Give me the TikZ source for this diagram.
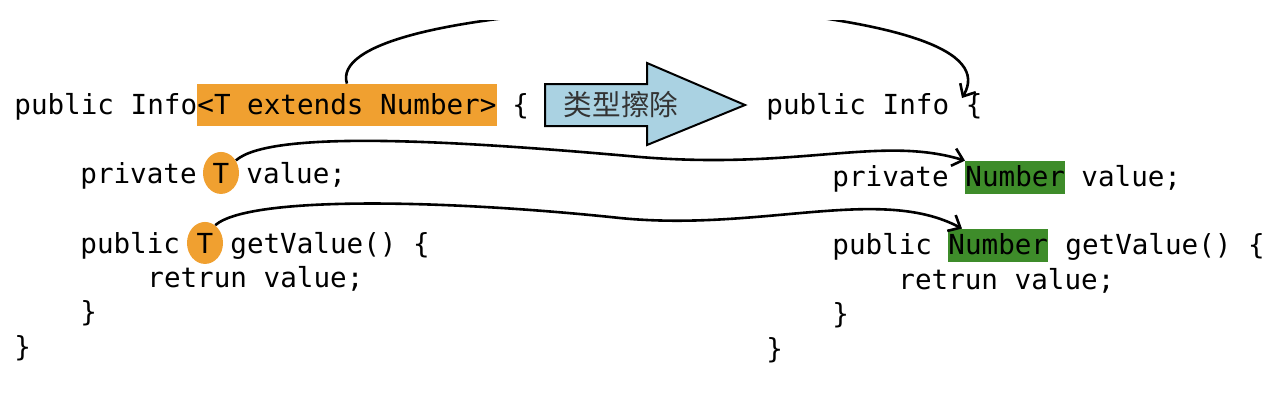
\documentclass[tikz,border=0pt]{standalone}
\usepackage{fontspec}
\setmonofont{DejaVu Sans Mono}
\newfontfamily\cjk{Noto Sans CJK SC}
\usetikzlibrary{shapes.geometric,arrows.meta}
\definecolor{hlorange}{RGB}{240,160,48}
\definecolor{hlgreen}{RGB}{62,140,42}
\definecolor{arrowblue}{RGB}{170,210,226}
\tikzset{
  code/.style={font=\ttfamily\fontsize{13.8}{16}\selectfont, inner sep=0pt, anchor=base west},
  typebox/.style={code, fill=hlorange, text height=15pt, text depth=6pt},
  numbox/.style={code, fill=hlgreen, text height=12.5pt, text depth=4pt},
  tmark/.style={ellipse, fill=hlorange, inner sep=0pt, minimum width=18pt, minimum height=21pt,
    font=\ttfamily\fontsize{13.8}{16}\selectfont, anchor=base},
  link/.style={line width=1.3pt, -{Straight Barb[length=5pt,width=9pt]}},
}
\begin{document}
\begin{tikzpicture}[x=0.5pt,y=-0.5pt]
      \useasboundingbox (0,0) rectangle (1284,404);
      \node[code] (l1) at (14,114) {public Info};
      \node[typebox] (bound) at (197,114) {<T extends Number>};
      \node[code] (l1b) at (512,114) {\{};
      \node[code] (l2) at (80,183) {private};
      \node[tmark] (tv) at (221,183) {T};
      \node[code] (l2b) at (246,183) {value;};
      \node[code] (l3) at (80,253) {public};
      \node[tmark] (tg) at (205,253) {T};
      \node[code] (l3b) at (230,253) {getValue() \{};
      \node[code] (l4) at (147,287) {retrun value;};
      \node[code] (l5) at (80,321) {\}};
      \node[code] (l6) at (14,356) {\}};
      \node[code] (rinfo) at (766,114) {public Info \{};
      \node[code] (r2) at (832,186) {private};
      \node[numbox] (num1) at (965,186) {Number};
      \node[code] (r2b) at (1081,186) {value;};
      \node[code] (r3) at (832,254) {public};
      \node[numbox] (num2) at (948,254) {Number};
      \node[code] (r3b) at (1065,254) {getValue() \{};
      \node[code] (r4) at (898,289) {retrun value;};
      \node[code] (r5) at (832,323) {\}};
      \node[code] (r6) at (766,358) {\}};
      \draw[line width=1pt, fill=arrowblue] (545,84) -- (647,84) -- (647,63) -- (745,105)
        -- (647,145) -- (647,126) -- (545,126) -- cycle;
      \node[font=\cjk\fontsize{14.3}{16}\selectfont, text=black!80] (erase) at (621,105) {类型擦除};
      \coordinate (brace) at (962,98);
      \draw [link] (tv.40) .. controls (270,130) and (450,140) .. (640,157)
        .. controls (800,170) and (880,135) .. (num1.north west);
      \draw [link] (tg.60) .. controls (250,195) and (450,200) .. (620,218)
        .. controls (760,232) and (880,185) .. ([xshift=7pt]num2.north west);
      \begin{scope}
        \clip (0,20) rectangle (1284,404);
        \draw [link] (bound.north) .. controls (335,45) and (440,12) .. (700,5)
          .. controls (900,20) and (990,50) .. (brace);
      \end{scope}
    \end{tikzpicture}
\end{document}
